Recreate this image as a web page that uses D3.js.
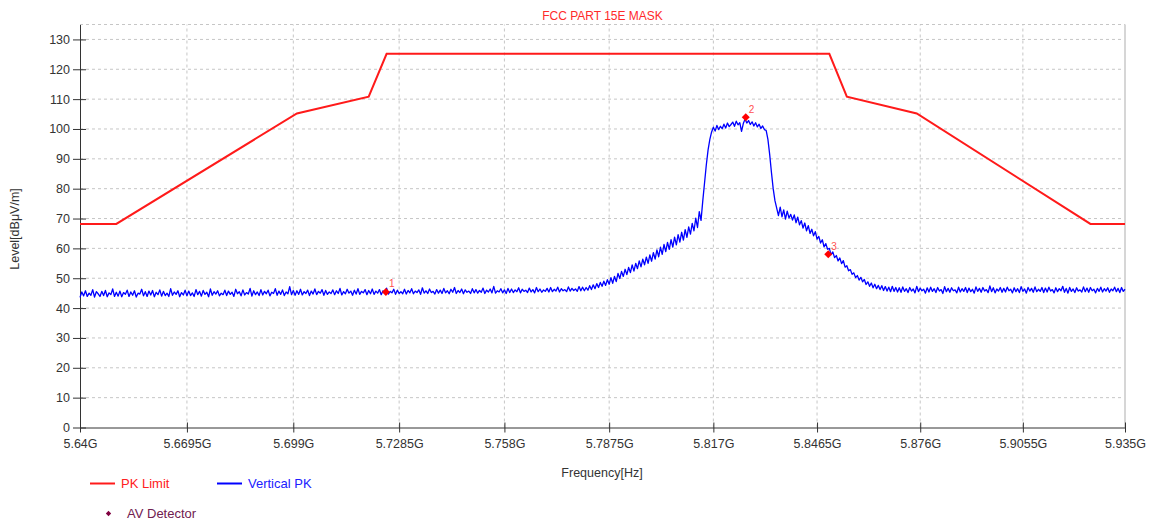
<!DOCTYPE html>
<html>
<head>
<meta charset="utf-8">
<script src="https://cdn.jsdelivr.net/npm/d3@7"></script>
<style>
  body { margin: 0; background: #fff; }
  svg { font-family: "Liberation Sans", Arial, sans-serif; }
</style>
</head>
<body>
<div id="chart"></div>
<script>
// x tick values (GHz) and their labels
const xTickValues = [5.64, 5.6695, 5.699, 5.7285, 5.758, 5.7875, 5.817, 5.8465, 5.876, 5.9055, 5.935];
const xTickLabels = ['5.64G', '5.6695G', '5.699G', '5.7285G', '5.758G', '5.7875G', '5.817G', '5.8465G', '5.876G', '5.9055G', '5.935G'];
const yTickValues = [0, 10, 20, 30, 40, 50, 60, 70, 80, 90, 100, 110, 120, 130];

// PK limit mask (GHz, dBuV/m)
const limitFreq = [5.640, 5.650, 5.700, 5.720, 5.725, 5.850, 5.855, 5.875, 5.925, 5.935];
const limitLevel = [68.2, 68.2, 105.2, 110.8, 125.2, 125.2, 110.8, 105.2, 68.2, 68.2];

// vertical PK trace, one reading every 0.5 MHz from 5.640 GHz
const traceStart = 5.640;
const traceStep = 0.0005;
const traceLevel = [
  43.6,45.4,44.1,45.8,43.9,45.0,44.3,46.2,43.7,45.5,44.8,43.9,45.6,44.2,45.9,43.8,45.1,44.5,46.4,43.9,
  45.3,44.0,45.7,43.8,45.2,44.6,46.0,43.9,45.4,44.3,45.8,43.7,45.0,44.7,46.3,44.1,45.5,43.9,45.7,44.4,
  45.9,43.8,45.3,44.5,46.1,44.0,45.6,44.2,45.0,43.9,46.5,44.3,45.4,44.6,45.8,43.8,45.2,44.4,46.0,44.1,
  45.7,44.2,45.1,43.9,46.2,44.5,45.6,44.0,45.9,44.6,45.3,43.8,46.4,44.3,45.5,44.7,45.8,44.1,45.0,44.5,
  46.0,44.2,45.7,44.6,45.3,43.9,46.3,44.8,45.5,44.1,46.1,44.4,45.2,44.7,46.6,44.0,45.8,44.5,45.4,44.2,
  46.2,44.4,45.6,44.8,46.0,44.1,45.3,44.9,46.5,44.3,45.7,44.6,46.1,44.2,45.4,44.8,47.2,44.5,45.9,44.3,
  45.8,44.6,46.3,44.4,45.5,44.9,46.0,44.2,45.7,44.7,46.4,44.5,45.6,45.0,46.2,44.3,45.9,44.6,45.4,44.9,
  46.1,44.5,45.8,44.9,46.6,44.4,45.5,44.8,46.3,45.0,45.7,44.3,46.0,44.7,46.5,44.6,45.6,45.1,46.2,44.5,
  45.9,44.8,46.4,44.6,45.7,45.0,46.2,44.5,45.8,44.9,46.7,44.7,45.6,45.1,46.3,44.6,46.0,44.9,45.5,44.8,
  46.3,44.7,45.9,45.1,46.5,44.8,45.7,45.2,46.1,44.6,46.8,45.0,45.8,44.9,46.4,45.2,45.6,44.7,46.2,45.0,
  46.0,44.9,46.6,45.1,45.8,44.8,46.3,45.3,46.9,44.9,45.9,45.2,46.4,44.8,46.1,45.3,45.7,44.9,46.5,45.1,
  46.2,45.0,45.9,45.3,46.7,44.9,46.0,45.4,46.4,45.1,47.3,45.0,45.8,45.4,46.5,45.1,46.1,44.9,46.6,45.2,
  46.4,45.2,46.1,45.5,46.8,45.1,46.3,45.6,46.0,45.2,46.7,45.4,46.2,45.1,46.9,45.5,46.4,45.3,46.1,45.6,
  46.6,45.4,46.9,45.5,46.3,45.7,47.0,45.4,46.5,45.8,46.2,45.5,47.1,45.7,46.6,45.9,46.4,45.6,47.2,45.8,
  47.0,45.8,46.9,46.0,47.5,46.2,47.8,46.5,48.2,46.9,48.6,47.3,49.0,47.6,49.5,48.0,50.2,48.3,50.6,48.9,
  51.6,49.9,52.3,50.6,53.0,51.2,53.6,51.9,54.5,52.4,55.0,53.2,55.8,53.8,56.4,54.5,57.1,55.0,57.8,55.7,
  58.6,56.4,59.5,57.2,60.4,58.0,61.3,58.9,62.0,59.7,62.9,60.4,63.8,61.2,64.6,62.1,65.4,62.8,66.3,63.7,
  67.2,64.8,68.4,65.9,70.1,67.0,72.3,69.4,76.0,82.0,88.0,93.0,96.5,99.0,100.6,99.3,101.2,99.8,100.9,100.1,
  101.6,100.3,102.0,100.8,101.5,102.3,100.9,102.6,101.4,102.1,99.2,101.8,103.3,102.0,102.8,101.5,102.4,101.0,102.1,100.7,
  101.6,100.2,101.0,99.8,99.5,96.5,91.5,85.5,80.0,76.0,73.5,71.0,73.8,70.6,72.9,69.8,72.5,70.2,71.4,69.5,
  71.2,68.6,70.5,67.9,69.3,66.8,68.5,65.9,67.6,65.0,66.4,64.2,65.6,63.1,64.0,61.8,62.9,60.5,61.6,59.7,
  60.0,57.9,58.8,56.9,57.6,55.8,56.8,54.9,55.9,53.7,54.2,52.5,52.9,51.3,51.8,50.2,50.9,49.4,50.3,48.8,
  49.6,47.9,48.8,47.3,48.4,46.8,48.0,46.5,47.6,46.2,47.5,45.9,47.2,45.7,47.0,45.5,47.3,45.6,46.9,45.4,
  46.8,45.3,47.1,45.6,46.5,45.2,46.9,45.7,46.4,45.1,47.3,45.5,46.7,45.8,46.3,45.0,46.8,45.4,47.0,45.6,
  46.5,45.2,46.9,45.7,46.2,44.9,47.2,45.5,46.6,45.3,46.8,45.8,46.1,45.1,47.0,45.4,46.5,45.6,46.9,45.2,
  46.7,45.5,46.3,45.0,47.1,45.6,46.6,45.3,46.9,45.7,46.2,45.2,47.4,45.5,46.8,45.1,46.4,45.7,46.9,45.3,
  46.6,45.4,47.0,45.8,46.3,45.1,46.8,45.5,46.5,45.2,47.2,45.6,46.4,45.0,46.9,45.7,46.6,45.3,47.1,45.5,
  46.3,45.6,46.9,45.2,46.7,45.4,47.0,45.7,46.2,45.1,46.8,45.5,46.5,45.8,47.3,45.3,46.6,45.0,46.9,45.6,
  46.4,45.2,46.8,45.7,46.1,45.4,47.1,45.5,46.7,45.3,46.9,45.8,46.3,45.1,46.6,45.6,47.0,45.4,46.5,45.7,
  46.8,45.3,46.4,45.8,47.0,45.5,46.6,45.2,46.9,45.6,46.3
];

// markers
const markerIds = ['1', '2', '3'];
const markerFreq = [5.7248, 5.8262, 5.8497];
const markerLevel = [45.4, 103.9, 58.0];

const width = 1151, height = 525;
const margin = { top: 24.5, left: 80, bottom: 97.5, right: 26 };

const x = d3.scaleLog()
  .domain([5.64, 5.935])
  .range([margin.left, width - margin.right]);
const y = d3.scaleLinear()
  .domain([0, 135])
  .range([height - margin.bottom, margin.top]);

const svg = d3.select('#chart').append('svg')
  .attr('width', width)
  .attr('height', height);

// grid
const grid = svg.append('g')
  .attr('stroke', '#c6c6c6')
  .attr('stroke-dasharray', '3,3')
  .attr('stroke-width', 1);
grid.selectAll('line.h')
  .data(yTickValues.slice(1).concat([135]))
  .join('line')
  .attr('x1', x.range()[0]).attr('x2', x.range()[1])
  .attr('y1', d => y(d)).attr('y2', d => y(d));
grid.selectAll('line.v')
  .data(xTickValues.slice(1, -1))
  .join('line')
  .attr('x1', d => x(d)).attr('x2', d => x(d))
  .attr('y1', y.range()[0]).attr('y2', y.range()[1]);

// right border
svg.append('line')
  .attr('x1', x.range()[1]).attr('x2', x.range()[1])
  .attr('y1', y.range()[0]).attr('y2', y.range()[1])
  .attr('stroke', '#d6d6d6')
  .attr('stroke-width', 2);

// axes
const yAxis = g => g
  .attr('transform', `translate(${margin.left},0)`)
  .call(d3.axisLeft(y).tickValues(yTickValues).tickSize(7).tickSizeOuter(0).tickPadding(3))
  .call(g => g.selectAll('.tick line').attr('x1', 6))
  .call(g => g.selectAll('path, line').attr('stroke', '#333'))
  .call(g => g.selectAll('text').attr('fill', '#333').style('font-size', '12.5px'));

const xAxis = g => g
  .attr('transform', `translate(0,${y(0)})`)
  .call(d3.axisBottom(x).tickValues(xTickValues).tickFormat((d, i) => xTickLabels[i])
    .tickSize(5).tickSizeOuter(0).tickPadding(7))
  .call(g => g.selectAll('.tick line').attr('y1', -5))
  .call(g => g.selectAll('path, line').attr('stroke', '#333'))
  .call(g => g.selectAll('text').attr('fill', '#333').style('font-size', '12.5px'));

svg.append('g').call(xAxis);
svg.append('g').call(yAxis);

// PK limit
const limitData = limitFreq.map((f, i) => ({ f: f, v: limitLevel[i] }));
const line = d3.line().x(d => x(d.f)).y(d => y(d.v));
svg.append('path')
  .datum(limitData)
  .attr('fill', 'none')
  .attr('stroke', '#ff1a1a')
  .attr('stroke-width', 2)
  .attr('d', line);

// vertical PK
const traceData = traceLevel.map((v, i) => ({ f: traceStart + i * traceStep, v: v }));
svg.append('path')
  .datum(traceData)
  .attr('fill', 'none')
  .attr('stroke', '#0000ff')
  .attr('stroke-width', 1.3)
  .attr('stroke-linejoin', 'round')
  .attr('d', line);

// markers
const symbol = d3.symbol().type(d3.symbolSquare).size(32);
const marks = svg.append('g');
marks.selectAll('path')
  .data(markerFreq)
  .join('path')
  .attr('d', symbol)
  .attr('transform', (d, i) => `translate(${x(d)},${y(markerLevel[i])}) rotate(45)`)
  .attr('fill', '#ff0000');
marks.selectAll('text')
  .data(markerFreq)
  .join('text')
  .attr('x', d => x(d) + 3)
  .attr('y', (d, i) => y(markerLevel[i]) - 4.5)
  .attr('fill', '#ff5050')
  .style('font-size', '10px')
  .text((d, i) => markerIds[i]);

// titles
svg.append('text')
  .attr('x', 602.5).attr('y', 20)
  .attr('text-anchor', 'middle')
  .attr('fill', '#ff2a2a')
  .style('font-size', '12px')
  .text('FCC PART 15E MASK');

svg.append('text')
  .attr('x', 602).attr('y', 477)
  .attr('text-anchor', 'middle')
  .attr('fill', '#333')
  .style('font-size', '12.5px')
  .text('Frequency[Hz]');

svg.append('text')
  .attr('transform', 'translate(19,229) rotate(-90)')
  .attr('text-anchor', 'middle')
  .attr('fill', '#333')
  .style('font-size', '12.5px')
  .text('Level[dBμV/m]');

// legend
const legend = svg.append('g').style('font-size', '13px');
legend.append('line').attr('x1', 90).attr('x2', 115).attr('y1', 483.5).attr('y2', 483.5)
  .attr('stroke', '#ff1a1a').attr('stroke-width', 2);
legend.append('text').attr('x', 121).attr('y', 488).attr('fill', '#ff2020').text('PK Limit');
legend.append('line').attr('x1', 217).attr('x2', 242).attr('y1', 483.5).attr('y2', 483.5)
  .attr('stroke', '#0000ff').attr('stroke-width', 2);
legend.append('text').attr('x', 248).attr('y', 488).attr('fill', '#2020ff').text('Vertical PK');
legend.append('path')
  .attr('d', d3.symbol().type(d3.symbolSquare).size(14))
  .attr('transform', 'translate(108.5,513.5) rotate(45)')
  .attr('fill', '#800040');
legend.append('text').attr('x', 127).attr('y', 518).attr('fill', '#702050').text('AV Detector');
</script>
</body>
</html>
